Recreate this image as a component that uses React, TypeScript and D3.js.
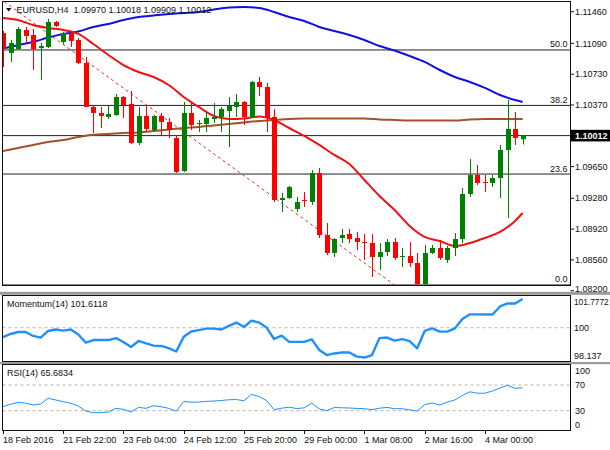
import * as d3 from "d3";

// EURUSD H4 candles, 18 Feb 2016 16:00 .. 4 Mar 2016 20:00
const openP = [
  1.11211, 1.10978, 1.11024, 1.11246, 1.11188, 1.11036, 1.11048, 1.1134, 1.11106, 1.11211,
  1.1113, 1.10861, 1.10347, 1.10277, 1.1023, 1.10253, 1.10464, 1.10382, 1.09926, 1.10242,
  1.10078, 1.10242, 1.10171, 1.09984, 1.09599, 1.10277, 1.10148, 1.10148, 1.10206, 1.1023,
  1.103, 1.10347, 1.10405, 1.1023, 1.10639, 1.1058, 1.1023, 1.0926, 1.09283, 1.09155,
  1.0926, 1.09237, 1.09575, 1.08851, 1.08641, 1.08816, 1.08863, 1.08816, 1.08769, 1.08757,
  1.08594, 1.08652, 1.08769, 1.08594, 1.08606, 1.08524, 1.08278, 1.08641, 1.08699, 1.08559,
  1.08699, 1.08804, 1.0933, 1.09552, 1.0947, 1.09459, 1.09517, 1.09844, 1.1009, 1.0997,
];
const highP = [
  1.11235, 1.1113, 1.11281, 1.11281, 1.11258, 1.11095, 1.11375, 1.11352, 1.11223, 1.11223,
  1.11153, 1.10931, 1.10358, 1.10347, 1.10358, 1.10499, 1.10475, 1.10534, 1.10347, 1.10358,
  1.10253, 1.10277, 1.10218, 1.10008, 1.10405, 1.10405, 1.10195, 1.10288, 1.10393, 1.10347,
  1.10464, 1.10499, 1.10417, 1.10651, 1.10697, 1.10627, 1.10323, 1.09342, 1.09424, 1.09295,
  1.09353, 1.09611, 1.09634, 1.08991, 1.08816, 1.08921, 1.08921, 1.08886, 1.08863, 1.08863,
  1.08757, 1.08804, 1.08816, 1.08699, 1.08769, 1.08641, 1.08734, 1.08734, 1.08793, 1.08722,
  1.08874, 1.094, 1.09739, 1.09669, 1.09552, 1.09552, 1.09903, 1.10428, 1.10288, 1.10018,
];
const lowP = [
  1.10814, 1.10873, 1.11013, 1.11095, 1.10779, 1.10662, 1.11036, 1.11281, 1.11083, 1.11048,
  1.10849, 1.10347, 1.10043, 1.10101, 1.10206, 1.10242, 1.10218, 1.09914, 1.09903, 1.10055,
  1.10066, 1.10008, 1.09984, 1.09575, 1.09587, 1.10078, 1.10055, 1.10055, 1.1016, 1.10055,
  1.09879, 1.1023, 1.10136, 1.1023, 1.10475, 1.10055, 1.09237, 1.0912, 1.09272, 1.0912,
  1.09178, 1.09202, 1.08816, 1.08617, 1.08594, 1.08757, 1.08757, 1.08676, 1.08559, 1.0836,
  1.08442, 1.08606, 1.08559, 1.08477, 1.08477, 1.08267, 1.08267, 1.08629, 1.08559, 1.08524,
  1.08606, 1.08757, 1.09295, 1.09435, 1.09353, 1.09412, 1.09283, 1.0905, 1.09903, 1.09909,
];
const closeP = [
  1.11024, 1.11095, 1.11258, 1.11176, 1.11024, 1.11059, 1.1134, 1.11293, 1.11211, 1.11118,
  1.10861, 1.10347, 1.10277, 1.10242, 1.10265, 1.10464, 1.1037, 1.09926, 1.10242, 1.1009,
  1.10242, 1.10171, 1.10078, 1.09587, 1.10277, 1.10136, 1.1016, 1.10218, 1.1023, 1.10323,
  1.10358, 1.10405, 1.1023, 1.10639, 1.1058, 1.10218, 1.0926, 1.09283, 1.09412, 1.09237,
  1.09248, 1.09575, 1.08851, 1.08641, 1.08804, 1.08851, 1.08804, 1.08769, 1.08757, 1.08594,
  1.08652, 1.08769, 1.08582, 1.08606, 1.08524, 1.08278, 1.08641, 1.08699, 1.08582, 1.08699,
  1.08804, 1.0933, 1.09552, 1.09459, 1.09459, 1.09517, 1.09844, 1.1009, 1.09984, 1.10012,
];

// moving averages read every second bar
const maBars = [
  0, 2, 4, 6, 8, 10, 12, 14, 16, 18, 20, 22, 24, 26, 28, 30, 32, 34,
  36, 38, 40, 42, 44, 46, 48, 50, 52, 54, 56, 58, 60, 62, 64, 66, 68, 69,
];
const maRed = [
  1.11387, 1.11363, 1.11305, 1.1127, 1.11246, 1.112, 1.11083, 1.10954, 1.10837, 1.10756,
  1.10697, 1.10604, 1.10464, 1.10347, 1.10242, 1.10206, 1.10212, 1.10236, 1.10195, 1.10101,
  1.10008, 1.09903, 1.09786, 1.09681, 1.09494, 1.09307, 1.09143, 1.08956, 1.08828, 1.08781,
  1.08722, 1.08757, 1.08816, 1.08886, 1.09015, 1.09108,
];
const maBlue = [
  1.1103, 1.11071, 1.11106, 1.11159, 1.112, 1.11229, 1.11282, 1.11317, 1.11363, 1.11398,
  1.11416, 1.11433, 1.11445, 1.11457, 1.11486, 1.11509, 1.11515, 1.11504, 1.11457, 1.11398,
  1.11352, 1.11282, 1.11235, 1.11188, 1.1113, 1.11059, 1.11007, 1.10943, 1.10873, 1.10779,
  1.10697, 1.10639, 1.10569, 1.10487, 1.10428, 1.10405,
];
const maBrown = [
  1.09833, 1.09868, 1.09903, 1.09938, 1.09961, 1.09996, 1.10022, 1.10031, 1.10043, 1.10049,
  1.10066, 1.10084, 1.10101, 1.10113, 1.10131, 1.10148, 1.10166, 1.10183, 1.10195, 1.10206,
  1.10212, 1.10212, 1.10212, 1.10212, 1.10212, 1.10201, 1.10195, 1.10189, 1.10189, 1.10189,
  1.10189, 1.10201, 1.10206, 1.10206, 1.10206, 1.10206,
];

const momentum = [
  99.48, 99.65, 99.76, 99.76, 99.54, 99.45, 99.82, 99.9, 99.84, 99.9,
  99.62, 99.17, 99.31, 99.31, 99.31, 99.42, 99.2, 98.92, 99.26, 99.12,
  99.0, 98.98, 98.86, 98.67, 99.49, 99.79, 99.87, 99.95, 99.95, 99.9,
  100.1, 100.29, 100.04, 100.4, 100.29, 100.01, 99.37, 99.56, 99.21, 99.21,
  99.21, 99.35, 98.75, 98.47, 98.56, 98.61, 98.61, 98.38, 98.33, 98.47,
  99.42, 99.45, 99.28, 99.36, 99.25, 98.85, 99.82, 99.96, 99.78, 99.78,
  99.96, 100.49, 100.75, 100.75, 100.74, 100.74, 101.19, 101.36, 101.36, 101.6118,
];
const rsi = [
  36.5, 40.0, 43.1, 41.7, 38.9, 40.4, 49.3, 46.7, 44.0, 41.7,
  37.3, 29.5, 26.9, 26.9, 28.0, 33.7, 32.2, 28.0, 35.3, 33.7,
  37.8, 36.2, 33.7, 29.5, 44.3, 43.2, 43.5, 44.5, 45.1, 45.9,
  47.0, 47.4, 45.4, 55.5, 52.1, 45.9, 31.6, 33.9, 35.5, 33.3,
  34.5, 41.7, 32.7, 30.0, 35.0, 34.5, 34.2, 33.6, 33.1, 31.7,
  33.9, 35.1, 33.1, 33.1, 31.4, 29.5, 39.5, 42.0, 39.0, 43.5,
  46.7, 53.7, 59.4, 57.2, 57.2, 60.7, 65.3, 69.5, 64.9, 65.6834,
];

const header = "EURUSD,H4  1.09970 1.10018 1.09909 1.10012";
const lastPrice = 1.10012;
const priceTicks = [1.1146, 1.1109, 1.1073, 1.1037, 1.0965, 1.0928, 1.0892, 1.0856, 1.082];

const fibLow = 1.08267;
const fibHigh = 1.13759;
const fibLevels = [0, 23.6, 38.2, 50];
const fibLabels = ["0.0", "23.6", "38.2", "50.0"];
const trendBars = [-34, 52];

const dateBars = [0, 8, 16, 24, 32, 40, 48, 56, 64];
const dateLabels = [
  "18 Feb 2016", "21 Feb 22:00", "23 Feb 04:00", "24 Feb 12:00", "25 Feb 20:00",
  "29 Feb 00:00", "1 Mar 08:00", "2 Mar 16:00", "4 Mar 00:00",
];

const momTitle = "Momentum(14) 101.6118";
const momTicks = [101.7772, 100, 98.137];
const momTickLabels = ["101.7772", "100", "98.137"];
const rsiTitle = "RSI(14) 65.6834";
const rsiTicks = [100, 70, 30, 0];
const rsiLevels = [70, 30];

const L = 2.5;
const R = 570.5;
const mainTop = 1.5;
const mainBottom = 285.5;
const momTop = 295.5;
const momBottom = 361.5;
const rsiTop = 364.5;
const rsiBottom = 430.5;

export default function App() {
  const x = d3.scaleLinear().domain([0, 69]).range([3, 522.6]);
  const y = d3.scaleLinear().domain([1.082, 1.1146]).range([290.7, 11.7]);
  const yMom = d3.scaleLinear().domain([98.137, 101.7772]).range([361, 296]);
  const yRsi = d3.scaleLinear().domain([0, 100]).range([430, 365.7]);

  const maLine = d3
    .line<number>()
    .x((_, k) => x(maBars[k]))
    .y((v) => y(v))
    .curve(d3.curveMonotoneX);
  const momLine = d3.line<number>().x((_, i) => x(i)).y((v) => yMom(v));
  const rsiLine = d3.line<number>().x((_, i) => x(i)).y((v) => yRsi(v));

  const fibY = (lvl: number) => y(fibLow + ((fibHigh - fibLow) * lvl) / 100);
  const trendPrice = [fibHigh, fibLow];

  const clampLabel = (v: number, top: number, bottom: number) =>
    Math.max(top + 6, Math.min(bottom - 6, v));

  return (
    <svg
      width={610}
      height={450}
      style={{ position: "absolute", left: 0, top: 0, background: "#fff" }}
      fontFamily="'Liberation Sans', Arial, sans-serif"
      fontSize={9}
    >
      <defs>
        <clipPath id="mainClip">
          <rect x={L} y={mainTop} width={R - L} height={mainBottom - mainTop} />
        </clipPath>
        <clipPath id="momClip">
          <rect x={L} y={momTop} width={R - L} height={momBottom - momTop} />
        </clipPath>
        <clipPath id="rsiClip">
          <rect x={L} y={rsiTop} width={R - L} height={rsiBottom - rsiTop} />
        </clipPath>
      </defs>
      <rect width={610} height={450} fill="#fff" />

      {/* window separators */}
      <rect x={0} y={291.8} width={610} height={3} fill="#9a9a9a" />
      <rect x={0} y={362} width={610} height={2.2} fill="#9a9a9a" />

      {/* main chart */}
      <g clipPath="url(#mainClip)">
        {fibLevels.map((lvl) => (
          <line key={lvl} x1={L} x2={R} y1={fibY(lvl)} y2={fibY(lvl)} stroke="#222" strokeWidth={1} />
        ))}
        <line x1={L} x2={R} y1={y(lastPrice)} y2={y(lastPrice)} stroke="#222" strokeWidth={1} />
        <line
          x1={x(trendBars[0])}
          y1={y(trendPrice[0])}
          x2={x(trendBars[1])}
          y2={y(trendPrice[1])}
          stroke="#e03030"
          strokeWidth={1}
          strokeDasharray="3,3"
        />
        <path d={maLine(maBrown) ?? ""} fill="none" stroke="#a0522d" strokeWidth={2} />
        <path d={maLine(maBlue) ?? ""} fill="none" stroke="#1010e0" strokeWidth={2} />
        <path d={maLine(maRed) ?? ""} fill="none" stroke="#f01010" strokeWidth={2} />
        {openP.map((o, i) => {
          const c = closeP[i];
          const col = c >= o ? "#008000" : "#ff0000";
          const cx = Math.round(x(i));
          const top = y(Math.max(o, c));
          const bot = y(Math.min(o, c));
          return (
            <g key={i}>
              <line x1={cx + 0.5} x2={cx + 0.5} y1={y(highP[i])} y2={y(lowP[i])} stroke={col} strokeWidth={1} />
              <rect x={cx - 2} y={top} width={5} height={Math.max(1, bot - top)} fill={col} />
            </g>
          );
        })}
      </g>
      {fibLevels.map((lvl, k) => (
        <text key={lvl} x={567.5} y={fibY(lvl) - 2.5} textAnchor="end" fill="#111">
          {fibLabels[k]}
        </text>
      ))}
      <path d="M6,8 L11.5,8 L8.75,11.5 Z" fill="#111" />
      <text x={16.5} y={13.2} fill="#111" style={{ whiteSpace: "pre" }}>
        {header}
      </text>
      <rect x={L} y={mainTop} width={R - L} height={mainBottom - mainTop} fill="none" stroke="#111" strokeWidth={1} />

      {/* price axis */}
      {priceTicks.map((p) => (
        <g key={p}>
          <line x1={R} x2={R + 3.5} y1={y(p)} y2={y(p)} stroke="#111" />
          <text x={575} y={Math.min(y(p) + 3.2, 291.5)} fill="#111">
            {p.toFixed(5)}
          </text>
        </g>
      ))}
      <rect x={571} y={y(lastPrice) - 5.8} width={39} height={11.6} fill="#000" />
      <text x={575} y={y(lastPrice) + 3.3} fill="#fff" fontWeight="bold">
        {lastPrice.toFixed(5)}
      </text>

      {/* momentum */}
      <g clipPath="url(#momClip)">
        <line x1={L} x2={R} y1={yMom(100)} y2={yMom(100)} stroke="#bfb2a4" strokeDasharray="3,3" />
        <path d={momLine(momentum) ?? ""} fill="none" stroke="#1e90ff" strokeWidth={2.4} strokeLinejoin="round" />
      </g>
      <rect x={L} y={momTop} width={R - L} height={momBottom - momTop} fill="none" stroke="#111" strokeWidth={1} />
      <text x={7} y={306.8} fill="#111">
        {momTitle}
      </text>
      {momTicks.map((v, k) => (
        <text
          key={v}
          x={574}
          y={clampLabel(yMom(v), momTop, momBottom) + 3.2}
          fill="#111"
          fontSize={momTickLabels[k].length > 6 ? 8.3 : 9}
        >
          {momTickLabels[k]}
        </text>
      ))}

      {/* RSI */}
      <g clipPath="url(#rsiClip)">
        {rsiLevels.map((v) => (
          <line key={v} x1={L} x2={R} y1={yRsi(v)} y2={yRsi(v)} stroke="#bfb2a4" strokeDasharray="3,3" />
        ))}
        <path d={rsiLine(rsi) ?? ""} fill="none" stroke="#1e90ff" strokeWidth={1} />
      </g>
      <rect x={L} y={rsiTop} width={R - L} height={rsiBottom - rsiTop} fill="none" stroke="#111" strokeWidth={1} />
      <text x={7} y={376} fill="#111">
        {rsiTitle}
      </text>
      {rsiTicks.map((v) => (
        <text key={v} x={575} y={clampLabel(yRsi(v), rsiTop, rsiBottom) + 3.2} fill="#111">
          {v}
        </text>
      ))}

      {/* time axis */}
      {dateBars.map((b, k) => (
        <g key={b}>
          <line x1={Math.round(x(b)) + 0.5} x2={Math.round(x(b)) + 0.5} y1={rsiBottom} y2={434} stroke="#111" />
          <text x={x(b)} y={442.6} fill="#111">
            {dateLabels[k]}
          </text>
        </g>
      ))}
    </svg>
  );
}
